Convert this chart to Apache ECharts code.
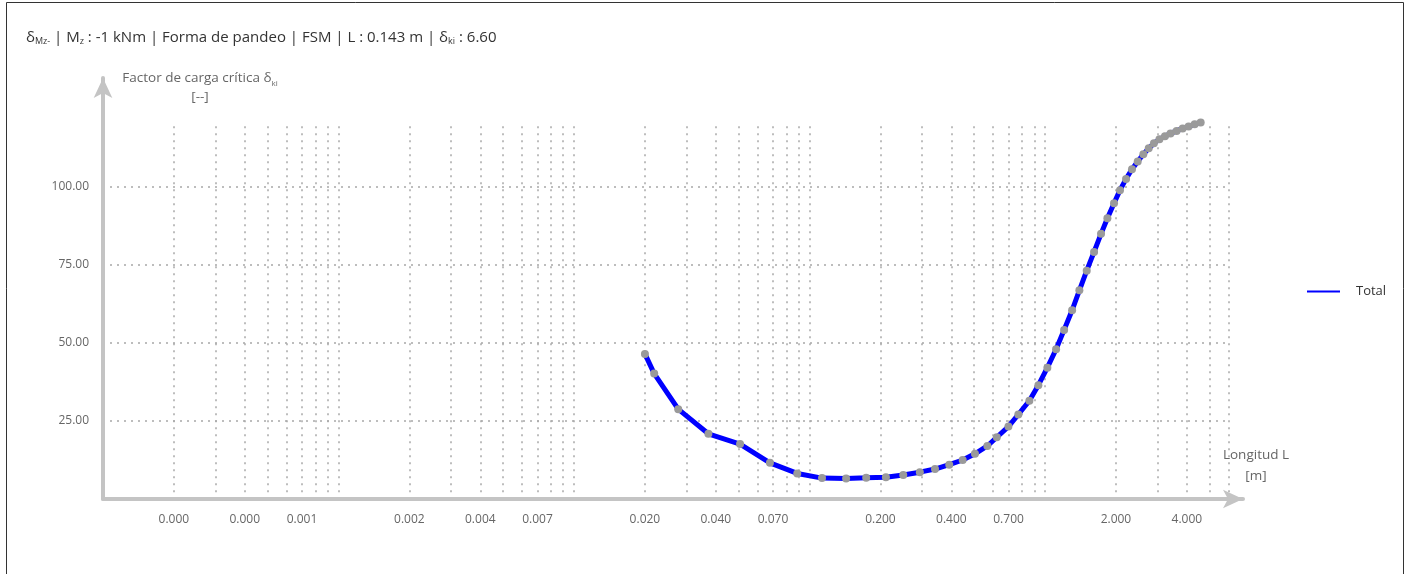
<!DOCTYPE html>
<html>
<head>
<meta charset="utf-8">
<script src="https://cdn.jsdelivr.net/npm/echarts@6/dist/echarts.min.js"></script>
<style>
html,body{margin:0;padding:0;background:#fff;}
#chart{width:1412px;height:574px;}
</style>
</head>
<body>
<div id="chart"></div>
<script>
// Buckling length L [m]
var lengths = [0.020, 0.0219, 0.0277, 0.0372, 0.0507, 0.0679, 0.0887, 0.113, 0.143, 0.174, 0.211, 0.25, 0.294, 0.341, 0.392, 0.447, 0.504, 0.569, 0.624, 0.699, 0.770, 0.858, 0.937, 1.023, 1.114, 1.205, 1.303, 1.399, 1.503, 1.615, 1.729, 1.840, 1.963, 2.081, 2.208, 2.34, 2.475, 2.614, 2.756, 2.90, 3.06, 3.23, 3.41, 3.62, 3.84, 4.07, 4.32, 4.58];
// Critical load factor delta_ki
var factors = [46.5, 40.2, 28.8, 20.9, 17.6, 11.6, 8.2, 6.7, 6.6, 6.8, 7.0, 7.7, 8.6, 9.6, 11.0, 12.5, 14.5, 17.0, 19.8, 23.2, 27.1, 31.5, 36.5, 42.1, 48.0, 54.2, 60.5, 66.9, 73.2, 79.2, 85.0, 90.0, 94.8, 99.0, 102.6, 105.7, 108.2, 110.5, 112.4, 114.0, 115.3, 116.3, 117.2, 118.0, 118.8, 119.4, 120.1, 120.7];
// x axis: labelled lengths and grid lengths (log scale)
var xLabelValues = [0.0002, 0.0004, 0.0007, 0.002, 0.004, 0.007, 0.02, 0.04, 0.07, 0.2, 0.4, 0.7, 2, 4];
var xGridValues = [0.0002,0.0003,0.0004,0.0005,0.0006,0.0007,0.0008,0.0009,0.001,
  0.002,0.003,0.004,0.005,0.006,0.007,0.008,0.009,0.01,
  0.02,0.03,0.04,0.05,0.06,0.07,0.08,0.09,0.1,
  0.2,0.3,0.4,0.5,0.6,0.7,0.8,0.9,1,
  2,3,4,5,6];
var xMin = 0.0001, xMax = 6;
// y axis
var yTicks = [25, 50, 75, 100];
var yMin = 0, yMax = 119.5;
var seriesName = 'Total';

var lg = function (v) { return Math.log10(v); };
var data = lengths.map(function (l, i) { return [lg(l), factors[i]]; });

var FONT = '"Open Sans", "Noto Sans", sans-serif';

var chart = echarts.init(document.getElementById('chart'));
var axisLineStyle = { color: '#c4c4c4', width: 4 };
var dotted = { color: '#a8a8a8', width: 1.5, type: [2, 5] };

chart.setOption({
  animation: false,
  backgroundColor: '#fff',
  title: {
    left: 21, top: 25,
    text: '{d|δ}{s|Mz-}{d| | M}{s|z}{d| : -1 kNm | Forma de pandeo | FSM | L : 0.143 m | δ}{s|ki}{d| : 6.60}',
    textStyle: {
      fontSize: 15, fontFamily: FONT, color: '#333', fontWeight: 'normal',
      rich: {
        d: { fontSize: 15, fontFamily: FONT, color: '#333' },
        s: { fontSize: 9, fontFamily: FONT, color: '#333', verticalAlign: 'bottom', padding: [7, 0, 0, 0] }
      }
    }
  },
  legend: {
    left: 1307, top: 285, padding: 0,
    itemWidth: 33, itemHeight: 2, itemGap: 10,
    textStyle: { fontSize: 13, fontFamily: FONT, color: '#333', padding: [0, 0, 0, 11] },
    data: [{ name: seriesName, icon: 'rect', itemStyle: { color: '#0000ff' } }]
  },
  grid: [
    { left: 103, right: 183.7, top: 126.2, bottom: 75 },
    { left: 103, right: 169, top: 78, bottom: 75 }
  ],
  xAxis: [
    {
      gridIndex: 0, type: 'value', min: lg(xMin), max: lg(xMax),
      axisLine: { show: false },
      axisTick: { show: false, customValues: xGridValues.map(lg) },
      axisLabel: {
        customValues: xLabelValues.map(lg), margin: 15,
        fontSize: 12, fontFamily: FONT, color: '#666',
        formatter: function (v) { return Math.pow(10, v).toFixed(3); }
      },
      splitLine: { show: true, lineStyle: dotted }
    },
    {
      gridIndex: 1, type: 'value', min: 0, max: 1,
      axisLine: { show: true, lineStyle: axisLineStyle, symbol: ['none', 'arrow'], symbolSize: [14, 20] },
      axisTick: { show: false }, axisLabel: { show: false }, splitLine: { show: false }
    }
  ],
  yAxis: [
    {
      gridIndex: 0, type: 'value', min: yMin, max: yMax,
      axisLine: { show: false },
      axisTick: { show: false, customValues: yTicks },
      axisLabel: {
        customValues: yTicks, margin: 14,
        fontSize: 12, fontFamily: FONT, color: '#666',
        formatter: function (v) { return v.toFixed(2); }
      },
      splitLine: { show: true, lineStyle: dotted }
    },
    {
      gridIndex: 1, type: 'value', min: 0, max: 1,
      axisLine: { show: true, lineStyle: axisLineStyle, symbol: ['none', 'arrow'], symbolSize: [14, 20] },
      axisTick: { show: false }, axisLabel: { show: false }, splitLine: { show: false }
    }
  ],
  series: [{
    name: seriesName,
    type: 'line',
    xAxisIndex: 0, yAxisIndex: 0,
    data: data,
    clip: false,
    showAllSymbol: true,
    symbol: 'circle', symbolSize: 8,
    itemStyle: { color: '#9a9a9a' },
    lineStyle: { color: '#0000ff', width: 5 },
    z: 5
  }],
  graphic: [
    {
      type: 'rect', silent: true, z: -1,
      shape: { x: 6.5, y: 2.5, width: 1397, height: 620 },
      style: { fill: 'none', stroke: '#333', lineWidth: 1 }
    },
    {
      type: 'text', silent: true,
      x: 200, y: 88,
      style: {
        text: 'Factor de carga crítica δ{s|ki}\n[--]',
        align: 'center', verticalAlign: 'middle',
        fontSize: 13.5, fontFamily: FONT, fill: '#666', lineHeight: 19,
        rich: { s: { fontSize: 8, fontFamily: FONT, fill: '#666', verticalAlign: 'bottom', padding: [6, 0, 0, 0] } }
      }
    },
    {
      type: 'text', silent: true,
      x: 1256, y: 466,
      style: {
        text: 'Longitud L\n[m]',
        align: 'center', verticalAlign: 'middle',
        fontSize: 13.5, fontFamily: FONT, fill: '#666', lineHeight: 21
      }
    }
  ]
});
</script>
</body>
</html>
